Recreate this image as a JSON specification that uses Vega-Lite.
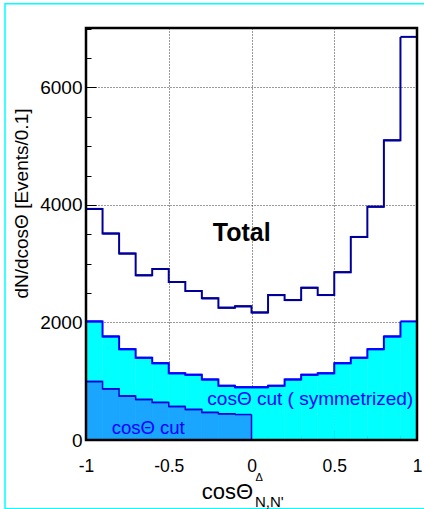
{
  "$schema": "https://vega.github.io/schema/vega-lite/v6.json",
  "width": 331,
  "height": 412,
  "autosize": {"type": "none"},
  "padding": {"left": 86, "top": 28, "right": 7, "bottom": 69},
  "background": "white",
  "config": {
    "view": {"stroke": null},
    "font": "Liberation Sans",
    "axis": {"labelFont": "Liberation Sans", "titleFont": "Liberation Sans", "labelColor": "black", "titleColor": "black"}
  },
  "data": {
    "values": [
      {"lo": -1.0, "hi": -0.9, "total": 3932, "sym": 2018, "cut": 995},
      {"lo": -0.9, "hi": -0.8, "total": 3513, "sym": 1762, "cut": 870},
      {"lo": -0.8, "hi": -0.7, "total": 3172, "sym": 1546, "cut": 750},
      {"lo": -0.7, "hi": -0.6, "total": 2802, "sym": 1399, "cut": 690},
      {"lo": -0.6, "hi": -0.5, "total": 2910, "sym": 1307, "cut": 640},
      {"lo": -0.5, "hi": -0.4, "total": 2688, "sym": 1135, "cut": 570},
      {"lo": -0.4, "hi": -0.3, "total": 2535, "sym": 1110, "cut": 520},
      {"lo": -0.3, "hi": -0.2, "total": 2410, "sym": 1030, "cut": 470},
      {"lo": -0.2, "hi": -0.1, "total": 2251, "sym": 922, "cut": 445},
      {"lo": -0.1, "hi": 0.0, "total": 2274, "sym": 898, "cut": 433},
      {"lo": 0.0, "hi": 0.1, "total": 2170, "sym": 898},
      {"lo": 0.1, "hi": 0.2, "total": 2465, "sym": 922},
      {"lo": 0.2, "hi": 0.3, "total": 2380, "sym": 1030},
      {"lo": 0.3, "hi": 0.4, "total": 2590, "sym": 1110},
      {"lo": 0.4, "hi": 0.5, "total": 2466, "sym": 1135},
      {"lo": 0.5, "hi": 0.6, "total": 2856, "sym": 1307},
      {"lo": 0.6, "hi": 0.7, "total": 3455, "sym": 1399},
      {"lo": 0.7, "hi": 0.8, "total": 3970, "sym": 1546},
      {"lo": 0.8, "hi": 0.9, "total": 5098, "sym": 1762},
      {"lo": 0.9, "hi": 1.0, "total": 6859, "sym": 2018}
    ]
  },
  "layer": [
    {
      "mark": {"type": "rect", "fill": "#00ffff", "stroke": "#00ffff", "strokeWidth": 0.5},
      "encoding": {
        "x": {"field": "lo", "type": "quantitative",
          "scale": {"domain": [-1, 1], "nice": false, "zero": false},
          "axis": {
            "values": [-1, -0.9, -0.8, -0.7, -0.6, -0.5, -0.4, -0.3, -0.2, -0.1, 0, 0.1, 0.2, 0.3, 0.4, 0.5, 0.6, 0.7, 0.8, 0.9, 1],
            "tickCount": 100,
            "labelExpr": "indexof([-1, -0.5, 0, 0.5, 1], datum.value) >= 0 ? replace(format(datum.value, '~g'), '\u2212', '-') : ''",
            "labelFontSize": 17.5,
            "labelPadding": 27,
            "labelFlush": false,
            "labelOverlap": false,
            "tickSize": {"condition": {"test": "indexof([-1, -0.5, 0, 0.5, 1], datum.value) >= 0", "value": -10}, "value": -5},
            "tickColor": "black",
            "domain": false,
            "grid": true,
            "gridDash": [1, 2],
            "gridColor": "#333333",
            "gridWidth": 1,
            "gridOpacity": {"condition": {"test": "indexof([-0.5, 0, 0.5], datum.value) >= 0", "value": 1}, "value": 0},
            "title": null
          }},
        "x2": {"field": "hi"},
        "y": {"field": "sym", "type": "quantitative",
          "scale": {"domain": [0, 7010], "nice": false},
          "axis": {
            "values": [0, 500, 1000, 1500, 2000, 2500, 3000, 3500, 4000, 4500, 5000, 5500, 6000, 6500, 7000],
            "tickCount": 100,
            "labelExpr": "datum.value % 2000 === 0 ? format(datum.value, 'd') : ''",
            "labelFontSize": 19,
            "labelPadding": 14,
            "labelOverlap": false,
            "labelFlush": false,
            "tickSize": {"condition": {"test": "datum.value % 2000 === 0", "value": -10}, "value": -5},
            "tickColor": "black",
            "domain": false,
            "grid": true,
            "gridDash": [1, 2],
            "gridColor": "#333333",
            "gridWidth": 1,
            "gridOpacity": {"condition": {"test": "datum.value % 2000 === 0 && datum.value > 0", "value": 1}, "value": 0},
            "title": "dN/dcos\u0398 [Events/0.1]",
            "titleFontSize": 19,
            "titleFontWeight": "normal",
            "titleAngle": 270,
            "titleAlign": "right",
            "titleBaseline": "alphabetic",
            "titleAnchor": null,
            "titleX": -59,
            "titleY": 80
          }},
        "y2": {"datum": 0}
      }
    },
    {
      "transform": [{"filter": "isValid(datum.cut)"}],
      "mark": {"type": "rect", "fill": "#1aa6ff", "stroke": "#1aa6ff", "strokeWidth": 0.5},
      "encoding": {
        "x": {"field": "lo", "type": "quantitative"},
        "x2": {"field": "hi"},
        "y": {"field": "cut", "type": "quantitative"},
        "y2": {"datum": 0}
      }
    },
    {
      "mark": {"type": "line", "interpolate": "step-after", "color": "#0000ff", "strokeWidth": 2},
      "encoding": {
        "x": {"field": "lo", "type": "quantitative"},
        "y": {"field": "sym", "type": "quantitative"}
      }
    },
    {
      "mark": {"type": "rule", "color": "#0000ff", "strokeWidth": 2},
      "encoding": {
        "x": {"field": "lo", "type": "quantitative"},
        "x2": {"field": "hi"},
        "y": {"field": "sym", "type": "quantitative"}
      }
    },
    {
      "transform": [{"filter": "isValid(datum.cut)"}],
      "mark": {"type": "line", "interpolate": "step-after", "color": "#0000dd", "strokeWidth": 1.5},
      "encoding": {
        "x": {"field": "lo", "type": "quantitative"},
        "y": {"field": "cut", "type": "quantitative"}
      }
    },
    {
      "transform": [{"filter": "isValid(datum.cut)"}],
      "mark": {"type": "rule", "color": "#0000dd", "strokeWidth": 1.5},
      "encoding": {
        "x": {"field": "lo", "type": "quantitative"},
        "x2": {"field": "hi"},
        "y": {"field": "cut", "type": "quantitative"}
      }
    },
    {
      "transform": [{"filter": "isValid(datum.cut) && datum.hi === 0"}],
      "mark": {"type": "rule", "color": "#0000dd", "strokeWidth": 1.5},
      "encoding": {
        "x": {"field": "hi", "type": "quantitative"},
        "y": {"field": "cut", "type": "quantitative"},
        "y2": {"datum": 0}
      }
    },
    {
      "data": {"values": [{}]},
      "mark": {"type": "rule", "color": "#0000dd", "strokeWidth": 1.5},
      "encoding": {
        "x": {"datum": -1},
        "x2": {"datum": 1},
        "y": {"datum": 0}
      }
    },
    {
      "mark": {"type": "line", "interpolate": "step-after", "color": "#000099", "strokeWidth": 2},
      "encoding": {
        "x": {"field": "lo", "type": "quantitative"},
        "y": {"field": "total", "type": "quantitative"}
      }
    },
    {
      "mark": {"type": "rule", "color": "#000099", "strokeWidth": 2},
      "encoding": {
        "x": {"field": "lo", "type": "quantitative"},
        "x2": {"field": "hi"},
        "y": {"field": "total", "type": "quantitative"}
      }
    },
    {
      "data": {"values": [{}]},
      "mark": {"type": "rect", "fill": null, "fillOpacity": 0, "stroke": "black", "strokeWidth": 2.5},
      "encoding": {
        "x": {"datum": -1},
        "x2": {"datum": 1},
        "y": {"datum": 0},
        "y2": {"datum": 7010}
      }
    },
    {
      "data": {"values": [{}]},
      "mark": {"type": "rect", "fill": null, "fillOpacity": 0, "stroke": "#00ffff", "strokeWidth": 1.5, "clip": false},
      "encoding": {
        "x": {"datum": -1.4894},
        "x2": {"datum": 1.06},
        "y": {"datum": 7421},
        "y2": {"datum": -1169}
      }
    },
    {
      "data": {"values": [{}]},
      "mark": {"type": "text", "text": "Total", "font": "Liberation Sans", "fontSize": 25, "fontWeight": "bold", "color": "black", "align": "center", "baseline": "alphabetic"},
      "encoding": {"x": {"datum": -0.059}, "y": {"datum": 3386}}
    },
    {
      "data": {"values": [{}]},
      "mark": {"type": "text", "text": "cos\u0398 cut ( symmetrized)", "font": "Liberation Sans", "fontSize": 19, "fontWeight": "normal", "color": "#0000ff", "align": "left", "baseline": "alphabetic"},
      "encoding": {"x": {"datum": -0.267}, "y": {"datum": 603}}
    },
    {
      "data": {"values": [{}]},
      "mark": {"type": "text", "text": "cos\u0398 cut", "font": "Liberation Sans", "fontSize": 18.5, "fontWeight": "normal", "color": "#0000ff", "align": "left", "baseline": "alphabetic"},
      "encoding": {"x": {"datum": -0.845}, "y": {"datum": 104}}
    },
    {
      "data": {"values": [{}]},
      "mark": {"type": "text", "text": "cos\u0398", "font": "Liberation Sans", "fontSize": 22, "fontWeight": "normal", "color": "black", "align": "left", "baseline": "alphabetic"},
      "encoding": {"x": {"datum": -0.301}, "y": {"datum": -999}}
    },
    {
      "data": {"values": [{}]},
      "mark": {"type": "text", "text": "\u0394", "font": "Liberation Sans", "fontSize": 11, "fontWeight": "normal", "color": "black", "align": "left", "baseline": "alphabetic"},
      "encoding": {"x": {"datum": 0.024}, "y": {"datum": -692}}
    },
    {
      "data": {"values": [{}]},
      "mark": {"type": "text", "text": "N,N'", "font": "Liberation Sans", "fontSize": 15, "fontWeight": "normal", "color": "black", "align": "left", "baseline": "alphabetic"},
      "encoding": {"x": {"datum": 0.021}, "y": {"datum": -1135}}
    }
  ]
}
